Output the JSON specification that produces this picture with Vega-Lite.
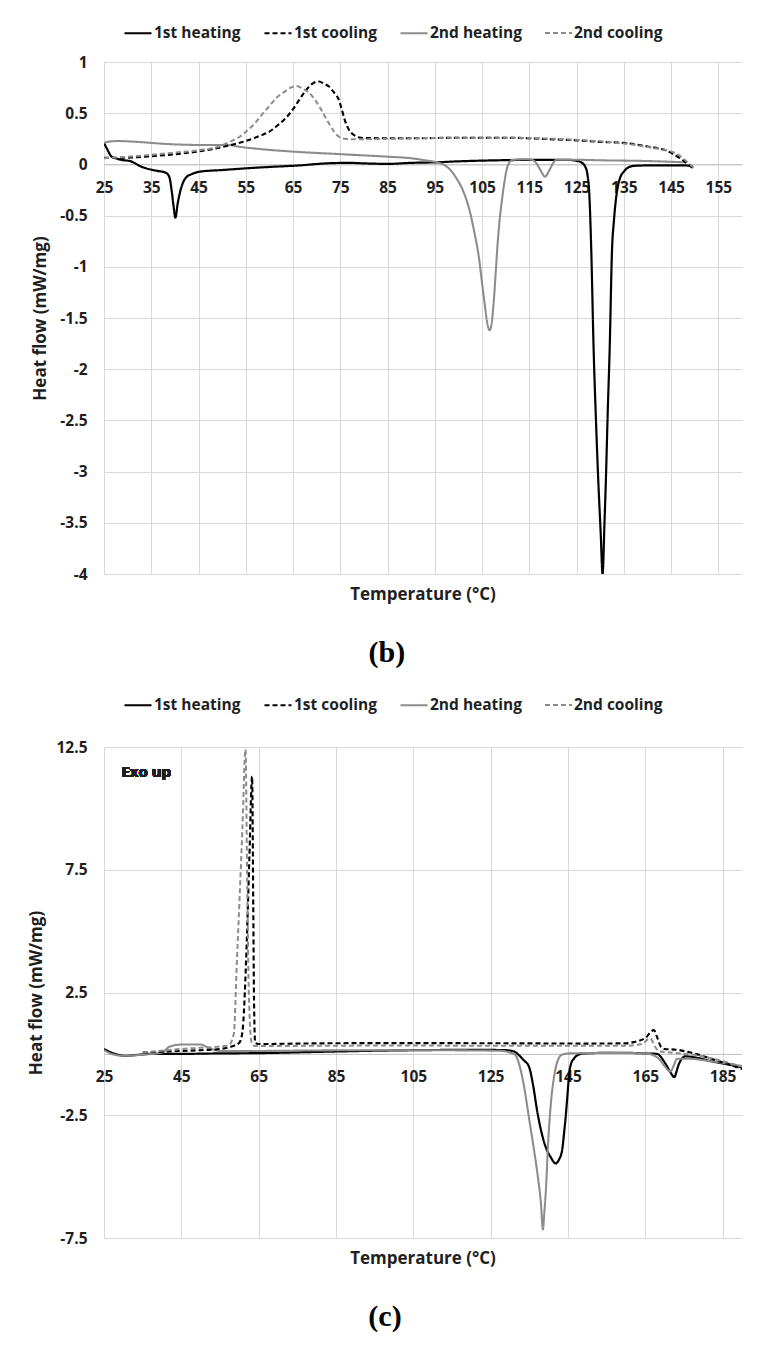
{
  "$schema": "https://vega.github.io/schema/vega-lite/v6.json",
  "padding": {"left": 27, "top": 18, "right": 5, "bottom": 5},
  "background": "white",
  "spacing": 22,
  "resolve": {"legend": {"color": "independent", "strokeDash": "independent"}, "scale": {"color": "independent", "strokeDash": "independent", "strokeWidth": "independent"}},
  "config": {
    "font": "Open Sans",
    "view": {"stroke": null},
    "axis": {
      "labelFont": "Open Sans", "labelFontWeight": "bold", "labelFontSize": 15.5, "labelColor": "#1f1f1f",
      "titleFont": "Open Sans", "titleFontWeight": "bold", "titleFontSize": 17, "titleColor": "#1f1f1f",
      "gridColor": "#d9d9d9", "gridWidth": 1, "ticks": false, "domain": false, "labelFlush": false
    },
    "legend": {
      "labelFont": "Open Sans", "labelFontWeight": "bold", "labelFontSize": 15.5, "labelColor": "#1f1f1f",
      "symbolType": "stroke", "symbolSize": 729, "symbolStrokeWidth": 2, "labelOffset": 1, "columnPadding": 19
    },
    "title": {"font": "Open Sans", "fontWeight": "bold", "fontSize": 17, "color": "#1f1f1f"}
  },
  "datasets": {
    "b": [
      {"s":"1st heating","t":25,"hf":0.21},{"s":"1st heating","t":26,"hf":0.12},{"s":"1st heating","t":26.5,"hf":0.08},{"s":"1st heating","t":27.5,"hf":0.06},{"s":"1st heating","t":28.6,"hf":0.045},{"s":"1st heating","t":30.7,"hf":0.03},{"s":"1st heating","t":32.8,"hf":-0.02},{"s":"1st heating","t":34.9,"hf":-0.05},{"s":"1st heating","t":36.5,"hf":-0.065},{"s":"1st heating","t":38,"hf":-0.08},{"s":"1st heating","t":38.8,"hf":-0.12},{"s":"1st heating","t":39.3,"hf":-0.25},{"s":"1st heating","t":39.7,"hf":-0.4},{"s":"1st heating","t":40.1,"hf":-0.52},{"s":"1st heating","t":40.6,"hf":-0.38},{"s":"1st heating","t":41.2,"hf":-0.25},{"s":"1st heating","t":41.7,"hf":-0.18},{"s":"1st heating","t":42.5,"hf":-0.12},{"s":"1st heating","t":43.3,"hf":-0.1},{"s":"1st heating","t":45.4,"hf":-0.07},{"s":"1st heating","t":50,"hf":-0.055},{"s":"1st heating","t":55.8,"hf":-0.036},{"s":"1st heating","t":60,"hf":-0.025},{"s":"1st heating","t":66.3,"hf":-0.01},{"s":"1st heating","t":72,"hf":0.01},{"s":"1st heating","t":76.8,"hf":0.015},{"s":"1st heating","t":80,"hf":0.01},{"s":"1st heating","t":85,"hf":0.005},{"s":"1st heating","t":90,"hf":0.015},{"s":"1st heating","t":95,"hf":0.02},{"s":"1st heating","t":100,"hf":0.03},{"s":"1st heating","t":108.2,"hf":0.04},{"s":"1st heating","t":118.6,"hf":0.045},{"s":"1st heating","t":123,"hf":0.045},{"s":"1st heating","t":125,"hf":0.035},{"s":"1st heating","t":126,"hf":0.02},{"s":"1st heating","t":126.8,"hf":-0.02},{"s":"1st heating","t":127.3,"hf":-0.1},{"s":"1st heating","t":127.7,"hf":-0.3},{"s":"1st heating","t":128.1,"hf":-0.83},{"s":"1st heating","t":128.6,"hf":-1.8},{"s":"1st heating","t":129.1,"hf":-2.5},{"s":"1st heating","t":129.6,"hf":-3.1},{"s":"1st heating","t":130.1,"hf":-3.6},{"s":"1st heating","t":130.5,"hf":-4.0},{"s":"1st heating","t":130.9,"hf":-3.5},{"s":"1st heating","t":131.2,"hf":-3.08},{"s":"1st heating","t":131.6,"hf":-2.4},{"s":"1st heating","t":132,"hf":-1.8},{"s":"1st heating","t":132.5,"hf":-0.83},{"s":"1st heating","t":132.9,"hf":-0.55},{"s":"1st heating","t":133.3,"hf":-0.35},{"s":"1st heating","t":133.8,"hf":-0.2},{"s":"1st heating","t":134.3,"hf":-0.12},{"s":"1st heating","t":135,"hf":-0.07},{"s":"1st heating","t":135.6,"hf":-0.04},{"s":"1st heating","t":137,"hf":-0.015},{"s":"1st heating","t":140,"hf":-0.01},{"s":"1st heating","t":148,"hf":-0.01},{"s":"1st heating","t":149.5,"hf":-0.02},
      {"s":"2nd heating","t":25,"hf":0.21},{"s":"2nd heating","t":26.5,"hf":0.225},{"s":"2nd heating","t":28,"hf":0.228},{"s":"2nd heating","t":32,"hf":0.22},{"s":"2nd heating","t":38,"hf":0.2},{"s":"2nd heating","t":45,"hf":0.19},{"s":"2nd heating","t":51,"hf":0.19},{"s":"2nd heating","t":54,"hf":0.17},{"s":"2nd heating","t":58,"hf":0.15},{"s":"2nd heating","t":65,"hf":0.125},{"s":"2nd heating","t":75,"hf":0.1},{"s":"2nd heating","t":85,"hf":0.075},{"s":"2nd heating","t":90,"hf":0.06},{"s":"2nd heating","t":93,"hf":0.04},{"s":"2nd heating","t":95,"hf":0.025},{"s":"2nd heating","t":96.5,"hf":0.005},{"s":"2nd heating","t":98,"hf":-0.04},{"s":"2nd heating","t":99.5,"hf":-0.13},{"s":"2nd heating","t":101,"hf":-0.26},{"s":"2nd heating","t":102.3,"hf":-0.44},{"s":"2nd heating","t":103.4,"hf":-0.67},{"s":"2nd heating","t":104.3,"hf":-0.9},{"s":"2nd heating","t":105,"hf":-1.16},{"s":"2nd heating","t":105.6,"hf":-1.38},{"s":"2nd heating","t":106.1,"hf":-1.55},{"s":"2nd heating","t":106.6,"hf":-1.62},{"s":"2nd heating","t":107,"hf":-1.56},{"s":"2nd heating","t":107.4,"hf":-1.38},{"s":"2nd heating","t":107.8,"hf":-1.12},{"s":"2nd heating","t":108.2,"hf":-0.83},{"s":"2nd heating","t":108.7,"hf":-0.55},{"s":"2nd heating","t":109.2,"hf":-0.35},{"s":"2nd heating","t":109.7,"hf":-0.18},{"s":"2nd heating","t":110.2,"hf":-0.05},{"s":"2nd heating","t":110.8,"hf":0.02},{"s":"2nd heating","t":111.5,"hf":0.045},{"s":"2nd heating","t":114,"hf":0.05},{"s":"2nd heating","t":115.5,"hf":0.045},{"s":"2nd heating","t":116.5,"hf":0.01},{"s":"2nd heating","t":117.4,"hf":-0.06},{"s":"2nd heating","t":118.3,"hf":-0.12},{"s":"2nd heating","t":119.2,"hf":-0.06},{"s":"2nd heating","t":120,"hf":0.01},{"s":"2nd heating","t":120.7,"hf":0.045},{"s":"2nd heating","t":125,"hf":0.045},{"s":"2nd heating","t":130,"hf":0.04},{"s":"2nd heating","t":140,"hf":0.033},{"s":"2nd heating","t":148,"hf":0.02},
      {"s":"1st cooling","t":25,"hf":0.065},{"s":"1st cooling","t":27,"hf":0.063},{"s":"1st cooling","t":30,"hf":0.066},{"s":"1st cooling","t":35,"hf":0.08},{"s":"1st cooling","t":40,"hf":0.1},{"s":"1st cooling","t":45,"hf":0.126},{"s":"1st cooling","t":48,"hf":0.15},{"s":"1st cooling","t":52.7,"hf":0.2},{"s":"1st cooling","t":55.8,"hf":0.24},{"s":"1st cooling","t":58,"hf":0.28},{"s":"1st cooling","t":60,"hf":0.32},{"s":"1st cooling","t":61.7,"hf":0.38},{"s":"1st cooling","t":63.2,"hf":0.44},{"s":"1st cooling","t":65,"hf":0.54},{"s":"1st cooling","t":66.3,"hf":0.63},{"s":"1st cooling","t":67.5,"hf":0.71},{"s":"1st cooling","t":68.4,"hf":0.76},{"s":"1st cooling","t":69.5,"hf":0.8},{"s":"1st cooling","t":70.5,"hf":0.81},{"s":"1st cooling","t":71.5,"hf":0.79},{"s":"1st cooling","t":72.6,"hf":0.76},{"s":"1st cooling","t":73.7,"hf":0.7},{"s":"1st cooling","t":74.7,"hf":0.63},{"s":"1st cooling","t":75.3,"hf":0.54},{"s":"1st cooling","t":75.9,"hf":0.44},{"s":"1st cooling","t":76.8,"hf":0.34},{"s":"1st cooling","t":77.8,"hf":0.29},{"s":"1st cooling","t":78.8,"hf":0.265},{"s":"1st cooling","t":80,"hf":0.257},{"s":"1st cooling","t":90,"hf":0.255},{"s":"1st cooling","t":100,"hf":0.26},{"s":"1st cooling","t":110,"hf":0.26},{"s":"1st cooling","t":120,"hf":0.245},{"s":"1st cooling","t":125,"hf":0.235},{"s":"1st cooling","t":130,"hf":0.22},{"s":"1st cooling","t":135,"hf":0.21},{"s":"1st cooling","t":140,"hf":0.175},{"s":"1st cooling","t":143.7,"hf":0.14},{"s":"1st cooling","t":146.9,"hf":0.06},{"s":"1st cooling","t":148.4,"hf":0.01},{"s":"1st cooling","t":150,"hf":-0.05},
      {"s":"2nd cooling","t":25,"hf":0.06},{"s":"2nd cooling","t":30,"hf":0.075},{"s":"2nd cooling","t":34.9,"hf":0.094},{"s":"2nd cooling","t":40,"hf":0.115},{"s":"2nd cooling","t":45.4,"hf":0.14},{"s":"2nd cooling","t":49,"hf":0.17},{"s":"2nd cooling","t":51.6,"hf":0.22},{"s":"2nd cooling","t":53.7,"hf":0.27},{"s":"2nd cooling","t":55.3,"hf":0.33},{"s":"2nd cooling","t":56.9,"hf":0.4},{"s":"2nd cooling","t":58.5,"hf":0.49},{"s":"2nd cooling","t":60,"hf":0.57},{"s":"2nd cooling","t":61.5,"hf":0.65},{"s":"2nd cooling","t":63.2,"hf":0.71},{"s":"2nd cooling","t":64.5,"hf":0.75},{"s":"2nd cooling","t":65.8,"hf":0.765},{"s":"2nd cooling","t":67,"hf":0.74},{"s":"2nd cooling","t":68.4,"hf":0.7},{"s":"2nd cooling","t":69.5,"hf":0.64},{"s":"2nd cooling","t":70.5,"hf":0.57},{"s":"2nd cooling","t":71.6,"hf":0.48},{"s":"2nd cooling","t":72.6,"hf":0.4},{"s":"2nd cooling","t":73.7,"hf":0.32},{"s":"2nd cooling","t":74.7,"hf":0.27},{"s":"2nd cooling","t":76,"hf":0.25},{"s":"2nd cooling","t":78,"hf":0.245},{"s":"2nd cooling","t":85,"hf":0.25},{"s":"2nd cooling","t":100,"hf":0.26},{"s":"2nd cooling","t":110,"hf":0.26},{"s":"2nd cooling","t":120,"hf":0.25},{"s":"2nd cooling","t":130,"hf":0.225},{"s":"2nd cooling","t":135,"hf":0.205},{"s":"2nd cooling","t":140,"hf":0.17},{"s":"2nd cooling","t":145.9,"hf":0.11},{"s":"2nd cooling","t":148,"hf":0.04},{"s":"2nd cooling","t":149,"hf":0.0},{"s":"2nd cooling","t":150,"hf":-0.04}
    ],
    "c": [
      {"s":"1st heating","t":25,"hf":0.2},{"s":"1st heating","t":27,"hf":0.05},{"s":"1st heating","t":29,"hf":-0.05},{"s":"1st heating","t":30.6,"hf":-0.08},{"s":"1st heating","t":33,"hf":-0.05},{"s":"1st heating","t":37.5,"hf":0.0},{"s":"1st heating","t":45,"hf":0.0},{"s":"1st heating","t":55,"hf":0.02},{"s":"1st heating","t":65,"hf":0.03},{"s":"1st heating","t":80,"hf":0.08},{"s":"1st heating","t":100,"hf":0.14},{"s":"1st heating","t":115,"hf":0.16},{"s":"1st heating","t":125,"hf":0.16},{"s":"1st heating","t":129,"hf":0.15},{"s":"1st heating","t":131,"hf":0.1},{"s":"1st heating","t":132.3,"hf":-0.05},{"s":"1st heating","t":133.5,"hf":-0.25},{"s":"1st heating","t":134.9,"hf":-0.52},{"s":"1st heating","t":136,"hf":-1.3},{"s":"1st heating","t":137,"hf":-2.3},{"s":"1st heating","t":138,"hf":-3.1},{"s":"1st heating","t":139.2,"hf":-3.78},{"s":"1st heating","t":140.5,"hf":-4.2},{"s":"1st heating","t":141.8,"hf":-4.46},{"s":"1st heating","t":142.7,"hf":-4.3},{"s":"1st heating","t":143.5,"hf":-3.9},{"s":"1st heating","t":144,"hf":-3.2},{"s":"1st heating","t":144.4,"hf":-2.56},{"s":"1st heating","t":144.9,"hf":-1.6},{"s":"1st heating","t":145.3,"hf":-0.8},{"s":"1st heating","t":145.8,"hf":-0.4},{"s":"1st heating","t":146.5,"hf":-0.2},{"s":"1st heating","t":147.5,"hf":-0.05},{"s":"1st heating","t":149.1,"hf":0.02},{"s":"1st heating","t":155,"hf":0.04},{"s":"1st heating","t":160,"hf":0.04},{"s":"1st heating","t":165,"hf":0.02},{"s":"1st heating","t":168,"hf":0.0},{"s":"1st heating","t":170.2,"hf":-0.4},{"s":"1st heating","t":171.5,"hf":-0.75},{"s":"1st heating","t":172.5,"hf":-0.95},{"s":"1st heating","t":173.1,"hf":-0.7},{"s":"1st heating","t":173.7,"hf":-0.4},{"s":"1st heating","t":175.4,"hf":-0.1},{"s":"1st heating","t":178,"hf":-0.15},{"s":"1st heating","t":182,"hf":-0.3},{"s":"1st heating","t":186,"hf":-0.42},{"s":"1st heating","t":190,"hf":-0.55},
      {"s":"2nd heating","t":25,"hf":0.15},{"s":"2nd heating","t":27,"hf":0.0},{"s":"2nd heating","t":30,"hf":-0.08},{"s":"2nd heating","t":35,"hf":-0.03},{"s":"2nd heating","t":40,"hf":0.05},{"s":"2nd heating","t":42,"hf":0.3},{"s":"2nd heating","t":45,"hf":0.38},{"s":"2nd heating","t":50,"hf":0.38},{"s":"2nd heating","t":52,"hf":0.25},{"s":"2nd heating","t":55,"hf":0.12},{"s":"2nd heating","t":65,"hf":0.12},{"s":"2nd heating","t":80,"hf":0.14},{"s":"2nd heating","t":100,"hf":0.15},{"s":"2nd heating","t":120,"hf":0.14},{"s":"2nd heating","t":128,"hf":0.12},{"s":"2nd heating","t":130,"hf":0.05},{"s":"2nd heating","t":131.4,"hf":-0.05},{"s":"2nd heating","t":132.5,"hf":-0.5},{"s":"2nd heating","t":133.6,"hf":-1.3},{"s":"2nd heating","t":134.9,"hf":-2.6},{"s":"2nd heating","t":136.2,"hf":-3.9},{"s":"2nd heating","t":137.2,"hf":-5.0},{"s":"2nd heating","t":138,"hf":-6.1},{"s":"2nd heating","t":138.5,"hf":-7.15},{"s":"2nd heating","t":138.9,"hf":-6.4},{"s":"2nd heating","t":139.3,"hf":-5.5},{"s":"2nd heating","t":139.8,"hf":-3.8},{"s":"2nd heating","t":140.5,"hf":-2.15},{"s":"2nd heating","t":141.4,"hf":-0.93},{"s":"2nd heating","t":142,"hf":-0.45},{"s":"2nd heating","t":142.7,"hf":-0.15},{"s":"2nd heating","t":143.5,"hf":-0.03},{"s":"2nd heating","t":145.3,"hf":0.02},{"s":"2nd heating","t":155,"hf":0.04},{"s":"2nd heating","t":165,"hf":0.02},{"s":"2nd heating","t":167,"hf":-0.05},{"s":"2nd heating","t":168.5,"hf":-0.2},{"s":"2nd heating","t":170,"hf":-0.5},{"s":"2nd heating","t":171.5,"hf":-0.72},{"s":"2nd heating","t":172.3,"hf":-0.5},{"s":"2nd heating","t":173.2,"hf":-0.2},{"s":"2nd heating","t":176.2,"hf":-0.2},{"s":"2nd heating","t":182,"hf":-0.3},{"s":"2nd heating","t":188.3,"hf":-0.45},{"s":"2nd heating","t":190,"hf":-0.5},
      {"s":"1st cooling","t":35,"hf":0.05},{"s":"1st cooling","t":45,"hf":0.12},{"s":"1st cooling","t":50,"hf":0.15},{"s":"1st cooling","t":55,"hf":0.2},{"s":"1st cooling","t":58,"hf":0.3},{"s":"1st cooling","t":60,"hf":0.45},{"s":"1st cooling","t":60.8,"hf":0.9},{"s":"1st cooling","t":61.8,"hf":4},{"s":"1st cooling","t":62.6,"hf":8},{"s":"1st cooling","t":63.3,"hf":11.3},{"s":"1st cooling","t":63.6,"hf":6},{"s":"1st cooling","t":63.8,"hf":2.2},{"s":"1st cooling","t":64.1,"hf":0.45},{"s":"1st cooling","t":65,"hf":0.4},{"s":"1st cooling","t":75,"hf":0.42},{"s":"1st cooling","t":100,"hf":0.44},{"s":"1st cooling","t":130,"hf":0.43},{"s":"1st cooling","t":150,"hf":0.42},{"s":"1st cooling","t":160,"hf":0.43},{"s":"1st cooling","t":162,"hf":0.48},{"s":"1st cooling","t":165,"hf":0.65},{"s":"1st cooling","t":167.2,"hf":0.97},{"s":"1st cooling","t":168,"hf":0.7},{"s":"1st cooling","t":169,"hf":0.3},{"s":"1st cooling","t":170,"hf":0.2},{"s":"1st cooling","t":173,"hf":0.17},{"s":"1st cooling","t":178,"hf":0.0},{"s":"1st cooling","t":183,"hf":-0.25},{"s":"1st cooling","t":187,"hf":-0.45},{"s":"1st cooling","t":190,"hf":-0.62},
      {"s":"2nd cooling","t":35,"hf":0.05},{"s":"2nd cooling","t":45,"hf":0.2},{"s":"2nd cooling","t":50,"hf":0.25},{"s":"2nd cooling","t":55,"hf":0.3},{"s":"2nd cooling","t":57.3,"hf":0.36},{"s":"2nd cooling","t":58.6,"hf":0.85},{"s":"2nd cooling","t":59.3,"hf":3.5},{"s":"2nd cooling","t":60,"hf":6.1},{"s":"2nd cooling","t":60.8,"hf":9.2},{"s":"2nd cooling","t":61.6,"hf":12.4},{"s":"2nd cooling","t":62,"hf":7.5},{"s":"2nd cooling","t":62.5,"hf":2.2},{"s":"2nd cooling","t":63.2,"hf":0.45},{"s":"2nd cooling","t":64,"hf":0.32},{"s":"2nd cooling","t":80,"hf":0.33},{"s":"2nd cooling","t":100,"hf":0.34},{"s":"2nd cooling","t":130,"hf":0.33},{"s":"2nd cooling","t":160,"hf":0.33},{"s":"2nd cooling","t":164,"hf":0.4},{"s":"2nd cooling","t":166.3,"hf":0.63},{"s":"2nd cooling","t":167.5,"hf":0.3},{"s":"2nd cooling","t":168.5,"hf":0.1},{"s":"2nd cooling","t":172,"hf":0.05},{"s":"2nd cooling","t":178,"hf":-0.05},{"s":"2nd cooling","t":185,"hf":-0.3},{"s":"2nd cooling","t":190,"hf":-0.52}
    ]
  },
  "vconcat": [
    {
      "title": {"text": "(b)", "orient": "bottom", "anchor": "middle", "frame": "bounds", "font": "Liberation Serif", "fontSize": 30, "fontWeight": "bold", "color": "#000000", "offset": 35},
      "vconcat": [
        {
          "width": 638, "height": 512,
          "title": {"text": "Temperature (°C)", "orient": "bottom", "anchor": "middle", "offset": 4},
          "data": {"name": "b"},
          "mark": {"type": "line", "interpolate": "monotone", "clip": true},
          "encoding": {
            "x": {"field": "t", "type": "quantitative",
                  "scale": {"domain": [25, 160], "nice": false, "zero": false},
                  "axis": {"values": [25,35,45,55,65,75,85,95,105,115,125,135,145,155], "offset": -409.6, "labelPadding": 16, "domain": true, "domainColor": "#bfbfbf", "title": null, "grid": true}},
            "y": {"field": "hf", "type": "quantitative",
                  "scale": {"domain": [-4, 1], "nice": false, "zero": false},
                  "axis": {"values": [-4,-3.5,-3,-2.5,-2,-1.5,-1,-0.5,0,0.5,1], "labelExpr": "datum.value + ''", "labelPadding": 17, "title": "Heat flow (mW/mg)", "titlePadding": 10}},
            "color": {"field": "s", "type": "nominal",
                      "scale": {"domain": ["1st heating","1st cooling","2nd heating","2nd cooling"], "range": ["#000000","#000000","#8c8c8c","#8c8c8c"]},
                      "legend": {"title": null, "orient": "none", "legendX": 19, "legendY": -44, "direction": "horizontal"}},
            "strokeDash": {"field": "s", "type": "nominal",
                      "scale": {"domain": ["1st heating","1st cooling","2nd heating","2nd cooling"], "range": [[1,0],[5,3],[1,0],[5,3]]},
                      "legend": {"title": null, "orient": "none", "legendX": 19, "legendY": -44, "direction": "horizontal"}},
            "strokeWidth": {"field": "s", "type": "nominal",
                      "scale": {"domain": ["1st heating","1st cooling","2nd heating","2nd cooling"], "range": [2.2,2,1.4,1.4]},
                      "legend": null}
          }
        }
      ]
    },
    {
      "title": {"text": "(c)", "orient": "bottom", "anchor": "middle", "frame": "bounds", "font": "Liberation Serif", "fontSize": 30, "fontWeight": "bold", "color": "#000000", "offset": 35},
      "vconcat": [
        {
          "width": 638, "height": 491,
          "title": {"text": "Temperature (°C)", "orient": "bottom", "anchor": "middle", "offset": 4},
          "data": {"name": "c"},
          "layer": [
            {
              "mark": {"type": "line", "interpolate": "monotone", "clip": true},
              "encoding": {
                "x": {"field": "t", "type": "quantitative",
                      "scale": {"domain": [25, 190], "nice": false, "zero": false},
                      "axis": {"values": [25,45,65,85,105,125,145,165,185], "offset": -184.1, "labelPadding": 16, "domain": true, "domainColor": "#bfbfbf", "title": null, "grid": true}},
                "y": {"field": "hf", "type": "quantitative",
                      "scale": {"domain": [-7.5, 12.5], "nice": false, "zero": false},
                      "axis": {"values": [-7.5,-2.5,2.5,7.5,12.5], "labelExpr": "datum.value + ''", "labelPadding": 17, "title": "Heat flow (mW/mg)", "titlePadding": 10}},
                "color": {"field": "s", "type": "nominal",
                          "scale": {"domain": ["1st heating","1st cooling","2nd heating","2nd cooling"], "range": ["#000000","#000000","#8c8c8c","#8c8c8c"]},
                          "legend": {"title": null, "orient": "none", "legendX": 19, "legendY": -57, "direction": "horizontal"}},
                "strokeDash": {"field": "s", "type": "nominal",
                          "scale": {"domain": ["1st heating","1st cooling","2nd heating","2nd cooling"], "range": [[1,0],[5,3],[1,0],[5,3]]},
                          "legend": {"title": null, "orient": "none", "legendX": 19, "legendY": -57, "direction": "horizontal"}},
                "strokeWidth": {"field": "s", "type": "nominal",
                          "scale": {"domain": ["1st heating","1st cooling","2nd heating","2nd cooling"], "range": [2.2,2,1.4,1.4]},
                          "legend": null}
              }
            },
            {
              "mark": {"type": "text", "align": "left", "baseline": "middle", "font": "Open Sans", "fontWeight": "bold", "fontSize": 15, "fill": "#1f1f1f", "strokeOpacity": 0},
              "encoding": {
                "x": {"datum": 29.5, "type": "quantitative"},
                "y": {"datum": 11.5, "type": "quantitative"},
                "text": {"value": "Exo up"}
              }
            }
          ]
        }
      ]
    }
  ]
}
